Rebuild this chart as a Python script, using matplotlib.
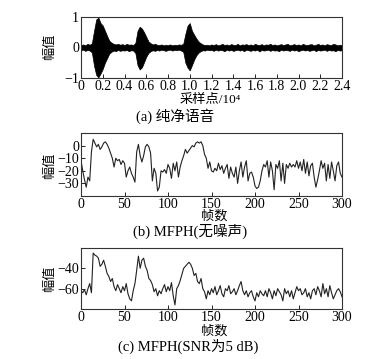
import numpy as np
import matplotlib
matplotlib.use("Agg")
import matplotlib.pyplot as plt

plt.rcParams['font.family'] = ['Liberation Serif', 'Noto Sans CJK SC']
plt.rcParams['axes.unicode_minus'] = True

# ---- (a) clean speech: waveform envelope, x in units of 10^4 samples ----
wave_x = np.round(np.arange(0, 2.41, 0.02), 2)
wave_upper = [0.08, 0.10, 0.07, 0.12, 0.09, 0.14, 0.55, 0.92, 0.98, 0.80,
              0.72, 0.55, 0.38, 0.22, 0.16, 0.12, 0.10, 0.12, 0.09, 0.11,
              0.08, 0.12, 0.09, 0.10, 0.08, 0.15, 0.55, 0.68, 0.62, 0.50,
              0.35, 0.20, 0.14, 0.10, 0.12, 0.09, 0.08, 0.10, 0.07, 0.09,
              0.08, 0.10, 0.07, 0.09, 0.08, 0.10, 0.09, 0.12, 0.45, 0.72,
              0.80, 0.55, 0.42, 0.30, 0.20, 0.14, 0.10, 0.08, 0.09, 0.07,
              0.10, 0.08, 0.11, 0.07, 0.09, 0.12, 0.08, 0.10, 0.07, 0.11,
              0.09, 0.08, 0.12, 0.07, 0.10, 0.09, 0.11, 0.08, 0.10, 0.07,
              0.12, 0.09, 0.08, 0.11, 0.07, 0.10, 0.09, 0.12, 0.08, 0.10,
              0.07, 0.09, 0.11, 0.08, 0.10, 0.12, 0.07, 0.09, 0.11, 0.08,
              0.10, 0.07, 0.12, 0.09, 0.08, 0.10, 0.11, 0.07, 0.09, 0.12,
              0.08, 0.10, 0.07, 0.11, 0.09, 0.08, 0.12, 0.10, 0.07, 0.09,
              0.08]
wave_lower = [-0.09, -0.07, -0.11, -0.08, -0.10, -0.16, -0.60, -0.90, -0.98, -0.85,
              -0.70, -0.50, -0.35, -0.20, -0.14, -0.10, -0.12, -0.08, -0.11, -0.09,
              -0.10, -0.08, -0.12, -0.09, -0.10, -0.18, -0.58, -0.72, -0.65, -0.48,
              -0.30, -0.18, -0.12, -0.09, -0.11, -0.08, -0.10, -0.07, -0.09, -0.11,
              -0.08, -0.07, -0.10, -0.08, -0.09, -0.07, -0.10, -0.14, -0.50, -0.66,
              -0.75, -0.58, -0.40, -0.26, -0.17, -0.12, -0.09, -0.10, -0.07, -0.09,
              -0.08, -0.11, -0.07, -0.10, -0.08, -0.09, -0.12, -0.07, -0.10, -0.08,
              -0.11, -0.09, -0.07, -0.10, -0.08, -0.12, -0.07, -0.09, -0.11, -0.08,
              -0.10, -0.07, -0.13, -0.08, -0.10, -0.09, -0.07, -0.11, -0.08, -0.10,
              -0.09, -0.12, -0.07, -0.10, -0.08, -0.09, -0.11, -0.07, -0.10, -0.08,
              -0.12, -0.09, -0.07, -0.10, -0.08, -0.11, -0.09, -0.07, -0.12, -0.08,
              -0.10, -0.09, -0.07, -0.11, -0.08, -0.10, -0.09, -0.12, -0.08, -0.10,
              -0.09]
wave_ticks = ['0', '0.2', '0.4', '0.6', '0.8', '1.0', '1.2', '1.4',
              '1.6', '1.8', '2.0', '2.2', '2.4']

# ---- (b) MFPH without noise, sampled every 2 frames ----
frames = np.arange(0, 301, 2)
mfph_clean = [-12, -20, -27, -33, -25, -28, -5, 5, 2, -1,
              1, -3, -1, 2, 3, 1, -2, -6, -10, -17,
              -10, -12, -11, -15, -12, -14, -25, -20, -17, -22,
              -25, -29, -5, 1, -8, -13, -8, -1, 1, -1,
              -6, -28, -18, -22, -36, -33, -20, -21, -19, -22,
              -15, -18, -26, -14, -20, -13, -25, -17, -12, -8,
              -3, -6, -4, -2, 0, -1, 2, 3, 2, 3,
              0, -7, -10, -18, -13, -20, -21, -18, -20, -14,
              -19, -16, -22, -18, -15, -26, -17, -22, -25, -17,
              -30, -20, -13, -25, -17, -12, -28, -22, -21, -25,
              -32, -34, -33, -28, -20, -15, -17, -12, -25, -13,
              -20, -35, -15, -18, -12, -28, -14, -30, -15, -18,
              -14, -17, -15, -17, -12, -18, -13, -20, -11, -22,
              -13, -24, -16, -14, -25, -33, -27, -20, -12, -18,
              -14, -28, -15, -26, -13, -20, -28, -16, -13, -22,
              -25]

# ---- (c) MFPH at SNR 5 dB ----
mfph_noisy = [-62, -64, -61, -66, -60, -55, -64, -25, -27, -28,
              -30, -38, -36, -32, -38, -45, -48, -53, -50, -58,
              -62, -56, -60, -64, -58, -62, -55, -65, -70, -72,
              -62, -55, -42, -28, -40, -32, -30, -38, -42, -50,
              -52, -56, -63, -60, -67, -62, -65, -60, -56, -63,
              -58, -62, -54, -67, -76, -60, -57, -52, -46, -40,
              -38, -36, -34, -36, -40, -47, -45, -53, -55, -50,
              -60, -63, -70, -62, -66, -60, -64, -58, -66, -62,
              -57, -65, -68, -60, -62, -57, -65, -63, -60, -66,
              -62, -57, -53, -62, -66, -62, -68, -64, -62, -68,
              -72, -64, -68, -62, -65, -67, -62, -68, -60, -64,
              -70, -62, -67, -60, -63, -66, -72, -60, -65, -62,
              -68, -62, -70, -64, -58, -62, -60, -66, -64, -60,
              -68, -64, -70, -62, -60, -66, -58, -62, -68, -55,
              -65, -60, -68, -57, -64, -70, -66, -62, -60, -63,
              -68]
frame_ticks = [0, 50, 100, 150, 200, 250, 300]

W, H = 377, 359
fig = plt.figure(figsize=(W / 100, H / 100), dpi=100)


def px_axes(left, top, right, bottom):
    return fig.add_axes([left / W, 1 - bottom / H, (right - left) / W, (bottom - top) / H])


def px_text(x, y, s, **kw):
    fig.text(x / W, 1 - y / H, s, ha='center', va='center', **kw)


ax_a = px_axes(81, 17, 342, 78)
ax_b = px_axes(81, 133, 342, 196)
ax_c = px_axes(81, 248, 342, 309)

fs = 10
lab = 9.5
cap = 10.5

ax_a.fill_between(wave_x, wave_lower, wave_upper, color='black', lw=0.5)
ax_a.set_xlim(0, 2.4)
ax_a.set_ylim(-1, 1)
ax_a.set_xticks(np.arange(0, 2.41, 0.2))
ax_a.set_xticklabels(wave_ticks)
ax_a.set_yticks([-1, 0, 1])

ax_b.plot(frames, mfph_clean, color='#222222', lw=0.8)
ax_b.set_xlim(0, 300)
ax_b.set_ylim(-40, 10)
ax_b.set_xticks(frame_ticks)
ax_b.set_yticks([0, -10, -20, -30])

ax_c.plot(frames, mfph_noisy, color='#222222', lw=0.8)
ax_c.set_xlim(0, 300)
ax_c.set_ylim(-80, -20)
ax_c.set_xticks(frame_ticks)
ax_c.set_yticks([-40, -60])

for ax in (ax_a, ax_b, ax_c):
    ax.tick_params(direction='in', length=3, width=0.6, labelsize=fs, pad=1.5)
    for s in ax.spines.values():
        s.set_linewidth(0.8)
        s.set_color('#333333')

# axis labels and captions
px_text(50, 47, '幅值', rotation=90, fontsize=lab)
px_text(210, 100, '采样点/10\u2074', fontsize=lab)
px_text(175, 116, '(a) 纯净语音', fontsize=cap)

px_text(50, 166, '幅值', rotation=90, fontsize=lab)
px_text(214, 216, '帧数', fontsize=lab)
px_text(190, 231, '(b) MFPH(无噪声)', fontsize=cap)

px_text(50, 279, '幅值', rotation=90, fontsize=lab)
px_text(214, 331, '帧数', fontsize=lab)
px_text(188, 346, '(c) MFPH(SNR为5 dB)', fontsize=cap)

fig.savefig('out.png', dpi=100)
